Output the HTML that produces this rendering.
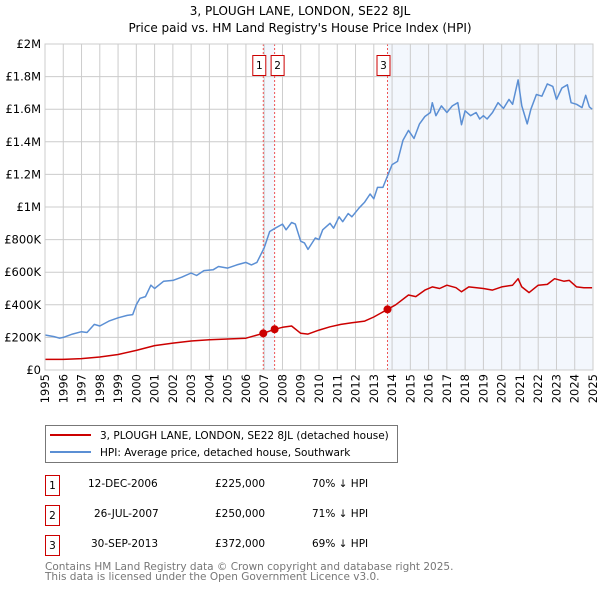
<!DOCTYPE html>
<html><head><meta charset="utf-8"><style>
body{margin:0;background:#fff;width:600px;height:590px;overflow:hidden;font-family:"DejaVu Sans","Liberation Sans",sans-serif}
</style></head><body>
<svg width="600" height="590" style="font-family:'DejaVu Sans','Liberation Sans',sans-serif">
<text x="300" y="15" text-anchor="middle" font-size="12">3, PLOUGH LANE, LONDON, SE22 8JL</text>
<text x="300" y="32" text-anchor="middle" font-size="12">Price paid vs. HM Land Registry's House Price Index (HPI)</text>
<g id="plot"></g>
<g>
<rect x="45.5" y="425.5" width="352" height="37" fill="#fff" stroke="#777"/>
<line x1="50" y1="435" x2="91" y2="435" stroke="#cc0000" stroke-width="2"/>
<text x="100" y="439" font-size="10.5">3, PLOUGH LANE, LONDON, SE22 8JL (detached house)</text>
<line x1="50" y1="452" x2="91" y2="452" stroke="#5b8fd4" stroke-width="2"/>
<text x="100" y="456" font-size="10.5">HPI: Average price, detached house, Southwark</text>
</g>
<g font-size="10.5">
<rect x="45.5" y="475.5" width="14" height="20" fill="#fff" stroke="#cc0000"/><text x="52.5" y="489" text-anchor="middle">1</text>
<text x="88" y="487">12-DEC-2006</text><text x="215" y="487">£225,000</text><text x="312" y="487">70% ↓ HPI</text>
<rect x="45.5" y="505.5" width="14" height="20" fill="#fff" stroke="#cc0000"/><text x="52.5" y="519" text-anchor="middle">2</text>
<text x="94" y="517">26-JUL-2007</text><text x="215" y="517">£250,000</text><text x="312" y="517">71% ↓ HPI</text>
<rect x="45.5" y="535.5" width="14" height="20" fill="#fff" stroke="#cc0000"/><text x="52.5" y="549" text-anchor="middle">3</text>
<text x="91" y="547">30-SEP-2013</text><text x="215" y="547">£372,000</text><text x="312" y="547">69% ↓ HPI</text>
</g>
<g font-size="10.5" fill="#777">
<text x="45" y="570">Contains HM Land Registry data © Crown copyright and database right 2025.</text>
<text x="45" y="580">This data is licensed under the Open Government Licence v3.0.</text>
</g>
</svg>
<script>
const hpiYears=[1995,1995.5,1995.8,1996,1996.5,1997,1997.3,1997.7,1998,1998.5,1999,1999.5,1999.8,2000,2000.2,2000.5,2000.8,2001,2001.5,2002,2002.5,2003,2003.3,2003.7,2004.2,2004.5,2005,2005.5,2006,2006.3,2006.6,2007,2007.3,2007.6,2008,2008.2,2008.5,2008.7,2009,2009.2,2009.4,2009.8,2010,2010.2,2010.6,2010.8,2011.1,2011.3,2011.6,2011.8,2012.2,2012.5,2012.8,2013,2013.2,2013.5,2013.75,2014,2014.3,2014.6,2014.9,2015.2,2015.5,2015.8,2016.1,2016.2,2016.4,2016.7,2017,2017.3,2017.6,2017.8,2018,2018.3,2018.6,2018.8,2019,2019.2,2019.5,2019.8,2020.1,2020.4,2020.6,2020.9,2021.1,2021.4,2021.6,2021.9,2022.2,2022.5,2022.8,2023,2023.3,2023.6,2023.8,2024.1,2024.4,2024.6,2024.8,2024.95];
const hpiValues=[215,205,195,200,220,235,230,280,270,300,320,335,340,400,440,450,520,500,545,550,570,595,580,610,615,635,625,645,660,645,660,750,850,870,895,860,905,895,790,780,740,810,800,860,900,870,940,910,960,940,995,1030,1080,1050,1120,1120,1190,1260,1280,1410,1470,1420,1510,1555,1580,1640,1560,1620,1580,1620,1640,1505,1590,1560,1580,1540,1560,1540,1580,1640,1605,1660,1630,1780,1620,1510,1600,1690,1680,1755,1740,1660,1730,1750,1640,1630,1610,1685,1615,1600];
const redYears=[1995,1996,1997,1998,1999,2000,2001,2002,2003,2004,2005,2006,2006.95,2007.57,2008,2008.5,2009,2009.4,2010,2010.6,2011.2,2011.8,2012.5,2013,2013.75,2014.2,2014.9,2015.3,2015.8,2016.2,2016.6,2017,2017.5,2017.8,2018.2,2019,2019.5,2020,2020.6,2020.9,2021.1,2021.5,2022,2022.5,2022.9,2023.4,2023.7,2024.1,2024.5,2024.95];
const redValues=[65,65,70,80,95,120,150,165,178,185,190,195,225,250,262,270,225,220,245,265,280,290,300,325,372,400,460,450,490,510,500,520,505,480,510,500,490,510,520,560,510,475,520,525,560,545,550,510,505,505];
const saleYears=[2006.95,2007.57,2013.75];
const saleValues=[225,250,372];
const saleLabels=["1","2","3"];
const yTicks=[0,200,400,600,800,1000,1200,1400,1600,1800,2000];
const yTickLabels=["£0","£200K","£400K","£600K","£800K","£1M","£1.2M","£1.4M","£1.6M","£1.8M","£2M"];
const xTicks=[1995,1996,1997,1998,1999,2000,2001,2002,2003,2004,2005,2006,2007,2008,2009,2010,2011,2012,2013,2014,2015,2016,2017,2018,2019,2020,2021,2022,2023,2024,2025];

const L=45,R=593,T=44,B=370;
const xs=y=>L+(y-1995)/30*(R-L);
const ys=v=>B-v/2000*(B-T);
const NS='http://www.w3.org/2000/svg';
const g=document.getElementById('plot');
function mk(t,a,p){const e=document.createElementNS(NS,t);for(const k in a)e.setAttribute(k,a[k]);(p||g).appendChild(e);return e;}
// shading
let s1=mk('rect',{x:xs(saleYears[0]),y:T,width:xs(saleYears[1])-xs(saleYears[0]),height:B-T,fill:'#eef3fc',opacity:0.7});


let s2=mk('rect',{x:xs(saleYears[2]),y:T,width:R-xs(saleYears[2]),height:B-T,fill:'#eef3fc',opacity:0.7});


yTicks.forEach((v,i)=>{
  let l=mk('line',{x1:L,x2:R,y1:ys(v),y2:ys(v),stroke:'#ccc','stroke-width':1});
  
  
  let t=mk('text',{x:L-4,y:ys(v)+4,'text-anchor':'end','font-size':11.5});
  
  
  t.textContent=yTickLabels[i];
});
xTicks.forEach(y=>{
  let l=mk('line',{x1:xs(y),x2:xs(y),y1:T,y2:B,stroke:'#ccc','stroke-width':1});
  
  
  let t=mk('text',{x:0,y:0,'font-size':11.5,'text-anchor':'end',transform:`translate(${xs(y)+4},${B+4}) rotate(-90)`});
  
  
  t.textContent=y;
});
saleYears.forEach((y,i)=>{
  let l=mk('line',{x1:xs(y),x2:xs(y),y1:T,y2:B,stroke:'#e55','stroke-width':1,'stroke-dasharray':'2,2'});
  
  
});
function path(xa,va,c,name){
  let d=xa.map((y,i)=>(i?'L':'M')+xs(y).toFixed(1)+','+ys(va[i]).toFixed(1)).join('');
  let p=mk('path',{d,fill:'none',stroke:c,'stroke-width':1.5,'stroke-linejoin':'round'});
  
  
}
path(hpiYears,hpiValues,'#5b8fd4','hpi-line');
path(redYears,redValues,'#cc0000','price-paid-line');
saleYears.forEach((y,i)=>{
  let c=mk('circle',{cx:xs(y),cy:ys(saleValues[i]),r:4,fill:'#cc0000'});
  
  
});
// label boxes
const boxX=[xs(saleYears[0])-11,xs(saleYears[1])-4,xs(saleYears[2])-11];
saleLabels.forEach((lb,i)=>{
  let r=mk('rect',{x:boxX[i]+0.5,y:55.5,width:13,height:20,fill:'#fff',stroke:'#cc0000'});
  
  
  let t=mk('text',{x:boxX[i]+7,y:69,'text-anchor':'middle','font-size':10.5});
  
  
  t.textContent=lb;
});
let ax=mk('rect',{x:L,y:T,width:R-L,height:B-T,fill:'none',stroke:'#ccc'});


</script>
</body></html>
